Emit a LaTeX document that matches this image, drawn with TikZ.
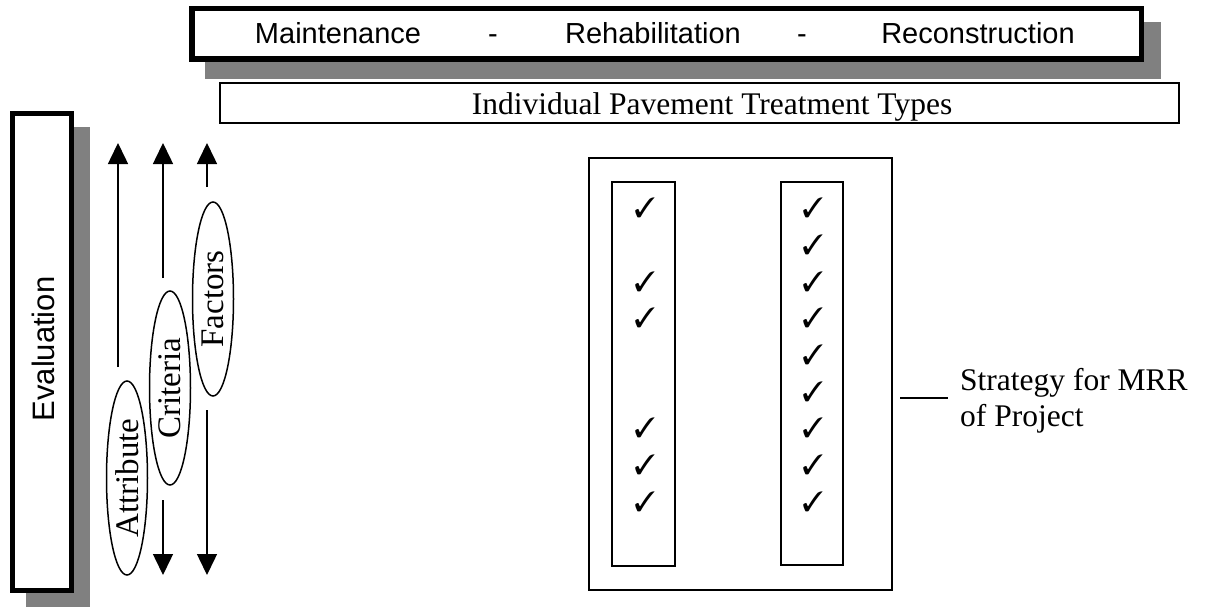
\documentclass[tikz,border=0pt]{standalone}
\usepackage{fontspec}
\setmainfont{Liberation Serif}
\newfontfamily\arialf{Liberation Sans}
\usepackage{pifont}
\usetikzlibrary{arrows.meta,shapes.geometric}
\definecolor{shadowgray}{RGB}{128,128,128}
\begin{document}
\begin{tikzpicture}[x=1pt,y=-1pt,
  shadowfill/.style={fill=shadowgray,draw=none},
  heavybox/.style={draw,fill=white,line width=5.5pt},
  lightbox/.style={draw,line width=1.5pt},
  flowline/.style={line width=1.5pt},
  tipped/.style={flowline,-{Triangle[width=20pt,length=21pt]}},
  oval/.style={ellipse,draw,line width=1.5pt,rotate=90,inner sep=0pt,minimum width=194pt,minimum height=41pt,font=\fontsize{33}{33}\selectfont},
  sanslabel/.style={font=\arialf\fontsize{29}{29}\selectfont,anchor=base},
  seriflabel/.style={font=\fontsize{31.5}{31.5}\selectfont},
  chk/.style={font=\fontsize{28}{28}\selectfont,inner sep=0pt}]
\useasboundingbox (0,0) rectangle (1207,607);
% top heading box
\fill[shadowfill] (205,22) rectangle (1161,79);
\draw[heavybox] (191.75,8.75) rectangle (1141.25,59.25);
\node[sanslabel] (mnt) at (338,44) {Maintenance};
\node[sanslabel] (d1) at (493,44) {-};
\node[sanslabel] (reh) at (653,44) {Rehabilitation};
\node[sanslabel] (d2) at (802,44) {-};
\node[sanslabel] (rec) at (978,44) {Reconstruction};
% individual types box
\draw[lightbox] (220,83) rectangle (1179,123);
\node[seriflabel,anchor=base] (ind) at (712,115) {Individual Pavement Treatment Types};
% evaluation box
\fill[shadowfill] (26,127) rectangle (90,612);
\draw[heavybox] (12.5,113.5) rectangle (71.5,590.5);
\node[font=\arialf\fontsize{31}{31}\selectfont,rotate=90] (evl) at (43,349) {Evaluation};
% ellipses
\node[oval] (att) at (127,478) {Attribute};
\node[oval] (cri) at (170,388) {Criteria};
\node[oval] (fac) at (213,299) {Factors};
% arrows
\coordinate (a1top) at (118,143);
\coordinate (a1bot) at (118,367);
\coordinate (a2top) at (163,143);
\coordinate (a2mid) at (163,278);
\coordinate (a2low) at (163,500);
\coordinate (a2bot) at (163,575);
\coordinate (a3top) at (207,143);
\coordinate (a3mid) at (207,187);
\coordinate (a3low) at (207,410);
\coordinate (a3bot) at (207,575);
\draw[tipped] (a1bot) -- (a1top);
\draw[tipped] (a2mid) -- (a2top);
\draw[tipped] (a2low) -- (a2bot);
\draw[tipped] (a3mid) -- (a3top);
\draw[tipped] (a3low) -- (a3bot);
% strategy box
\draw[lightbox] (589,158) rectangle (892,590);
\draw[lightbox] (612,182) rectangle (675,566);
\draw[lightbox] (781,182) rectangle (843,565);
\foreach \yy [count=\i] in {208,282,318,428,465,502}
  \node[chk] (l\i) at (645,\yy) {\ding{51}};
\foreach \yy [count=\i] in {208,245,282,318,355,392,428,465,502}
  \node[chk] (r\i) at (813,\yy) {\ding{51}};
% strategy label
\coordinate (sl) at (900,398);
\node[seriflabel,anchor=base west,inner sep=0pt] (st1) at (960,390) {Strategy for MRR};
\node[seriflabel,anchor=base west,inner sep=0pt] (st2) at (960,426) {of Project};
\coordinate (sr) at (948,398);
\draw[flowline] (sl) -- (sr);
\end{tikzpicture}
\end{document}
